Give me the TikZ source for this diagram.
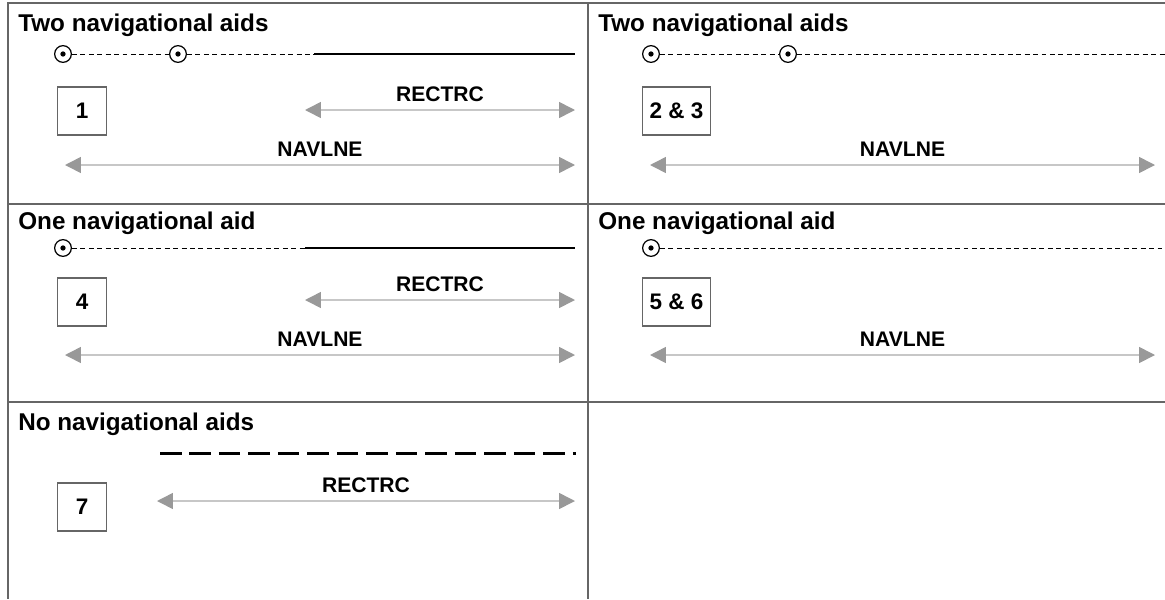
\documentclass[tikz,border=0pt]{standalone}
\usepackage{fontspec}
\setmainfont{Liberation Sans}
\usetikzlibrary{arrows.meta}
\definecolor{framegray}{gray}{0.4}
\definecolor{shaftgray}{gray}{0.78}
\definecolor{tipgray}{gray}{0.6}

\begin{document}
\begin{tikzpicture}[x=0.02cm, y=-0.02cm,
    frame/.style={framegray, line width=0.8pt},
    heading/.style={anchor=base west, inner sep=0pt, font=\fontsize{13.8}{16}\selectfont\bfseries},
    caseno/.style={draw=framegray, line width=0.6pt, anchor=west, minimum width=0.98cm, minimum height=0.96cm, inner xsep=4pt, font=\fontsize{12.8}{15}\selectfont\bfseries},
    aid/.style={circle, draw, line width=0.7pt, minimum size=9.5pt, inner sep=0pt, fill=white,
        path picture={\fill[black] (path picture bounding box.center) circle (1.5pt);}},
    guide/.style={line width=0.45pt, dash pattern=on 2.8pt off 2pt},
    track/.style={line width=1.3pt},
    gapline/.style={line width=1.7pt, dash pattern=on 12.25pt off 4.53pt},
    span/.style={shaftgray, line width=0.9pt,
        {Triangle[length=9pt, width=9pt, color=tipgray]}-{Triangle[length=9pt, width=9pt, color=tipgray]}},
    tag/.style={midway, above=1pt, text=black, font=\fontsize{12}{14}\selectfont\bfseries}]
    \useasboundingbox (0,0) rectangle (1165,599);

    % frame
    \draw[frame] (1165,3) -- (8,3) -- (8,599);
    \draw[frame] (8,204) -- (1165,204);
    \draw[frame] (8,402) -- (1165,402);
    \draw[frame] (588,3) -- (588,599);

    % two aids, with recommended track
    \node[heading] (h1) at (18,31) {Two navigational aids};
    \node[aid] (1a) at (63,54) {};
    \node[aid] (1b) at (178,54) {};
    \coordinate (1c) at (314,54);
    \coordinate (1d) at (575,54);
    \draw[guide] (1a) -- (1b);
    \draw[guide] (1b) -- (1c);
    \draw[track] (1c) -- (1d);
    \node[caseno] (1) at (57,111) {1};
    \coordinate (1r) at (305,110);
    \coordinate (1s) at (575,110);
    \draw[span] (1r) -- (1s) node[tag] {RECTRC};
    \coordinate (1n) at (65,165);
    \coordinate (1m) at (575,165);
    \draw[span] (1n) -- (1m) node[tag] {NAVLNE};

    % two aids, no track
    \node[heading] (h2) at (598,31) {Two navigational aids};
    \node[aid] (2a) at (651,54) {};
    \node[aid] (2b) at (788,54) {};
    \coordinate (2c) at (1165,54);
    \draw[guide] (2a) -- (2b);
    \draw[guide] (2b) -- (2c);
    \node[caseno] (2) at (642,111) {2 \& 3};
    \coordinate (2n) at (650,165);
    \coordinate (2m) at (1155,165);
    \draw[span] (2n) -- (2m) node[tag] {NAVLNE};

    % one aid, with recommended track
    \node[heading] (h4) at (18,229) {One navigational aid};
    \node[aid] (4a) at (63,248) {};
    \coordinate (4c) at (305,248);
    \coordinate (4d) at (575,248);
    \draw[guide] (4a) -- (4c);
    \draw[track] (4c) -- (4d);
    \node[caseno] (4) at (57,302) {4};
    \coordinate (4r) at (305,300);
    \coordinate (4s) at (575,300);
    \draw[span] (4r) -- (4s) node[tag] {RECTRC};
    \coordinate (4n) at (65,355);
    \coordinate (4m) at (575,355);
    \draw[span] (4n) -- (4m) node[tag] {NAVLNE};

    % one aid, no track
    \node[heading] (h5) at (598,229) {One navigational aid};
    \node[aid] (5a) at (651,248) {};
    \coordinate (5c) at (1165,248);
    \draw[guide] (5a) -- (5c);
    \node[caseno] (5) at (642,302) {5 \& 6};
    \coordinate (5n) at (650,355);
    \coordinate (5m) at (1155,355);
    \draw[span] (5n) -- (5m) node[tag] {NAVLNE};

    % no aids
    \node[heading] (h7) at (18,430) {No navigational aids};
    \coordinate (7c) at (160,453);
    \coordinate (7d) at (576,453);
    \draw[gapline] (7c) -- (7d);
    \node[caseno] (7) at (57,507) {7};
    \coordinate (7r) at (157,501);
    \coordinate (7s) at (575,501);
    \draw[span] (7r) -- (7s) node[tag] {RECTRC};
\end{tikzpicture}
\end{document}
